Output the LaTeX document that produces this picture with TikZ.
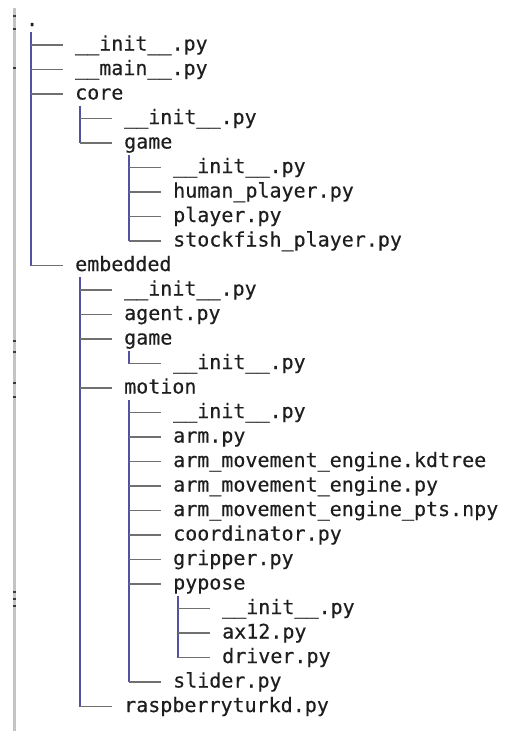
\documentclass[tikz,border=0pt]{standalone}
\usepackage{fontspec}
\newfontfamily\codefont[FakeBold=0.35]{DejaVu Sans Mono}
\usetikzlibrary{calc}
\definecolor{txt}{HTML}{1E1E1E}
\definecolor{vcol}{HTML}{5252A0}
\definecolor{hcol}{HTML}{707070}
\definecolor{barc}{HTML}{C4C4C4}
\definecolor{markc}{HTML}{3A3A3A}
\newcommand\vtree[2]{\draw[vline] ($(#1.west)+(5,11.5)$) -- ($(#1.west |- #2.west)+(5,0)$);}
\newcommand\branch[2]{\draw[hline] ($(#1.west |- #2.west)+(5,0)$) -- ($(#2.west)+(-12,0)$);}
\begin{document}
\begin{tikzpicture}[x=1pt,y=-1pt,
  file/.style={anchor=west,inner sep=0pt,text height=15pt,text depth=4pt,
    font=\codefont\fontsize{20}{20}\selectfont,text=txt},
  vline/.style={draw=vcol,line width=1.3pt},
  hline/.style={draw=hcol,line width=1.8pt},
  barmark/.style={fill=markc}]
\useasboundingbox[fill=white] (0,0) rectangle (504,731);
% left gray bar
\fill[barc] (12.8,8) rectangle (15.6,731);
\foreach \m in {16,29,68,341,352,383,397,592,599,606}
  \fill[barmark] (12.8,\m-1) rectangle (15.6,\m+1);
% files
\node[file] (root) at (26,20.5) {.};
\node[file] (a1) at (75,{20.5+24.5*1}) {\_\_init\_\_.py};
\node[file] (a2) at (75,{20.5+24.5*2}) {\_\_main\_\_.py};
\node[file] (core) at (75,{20.5+24.5*3}) {core};
\node[file] (c1) at (124,{20.5+24.5*4}) {\_\_init\_\_.py};
\node[file] (cgame) at (124,{20.5+24.5*5}) {game};
\node[file] (g1) at (173,{20.5+24.5*6}) {\_\_init\_\_.py};
\node[file] (g2) at (173,{20.5+24.5*7}) {human\_player.py};
\node[file] (g3) at (173,{20.5+24.5*8}) {player.py};
\node[file] (g4) at (173,{20.5+24.5*9}) {stockfish\_player.py};
\node[file] (emb) at (75,{20.5+24.5*10}) {embedded};
\node[file] (e1) at (124,{20.5+24.5*11}) {\_\_init\_\_.py};
\node[file] (e2) at (124,{20.5+24.5*12}) {agent.py};
\node[file] (egame) at (124,{20.5+24.5*13}) {game};
\node[file] (eg1) at (173,{20.5+24.5*14}) {\_\_init\_\_.py};
\node[file] (mot) at (124,{20.5+24.5*15}) {motion};
\node[file] (m1) at (173,{20.5+24.5*16}) {\_\_init\_\_.py};
\node[file] (m2) at (173,{20.5+24.5*17}) {arm.py};
\node[file] (m3) at (173,{20.5+24.5*18}) {arm\_movement\_engine.kdtree};
\node[file] (m4) at (173,{20.5+24.5*19}) {arm\_movement\_engine.py};
\node[file] (m5) at (173,{20.5+24.5*20}) {arm\_movement\_engine\_pts.npy};
\node[file] (m6) at (173,{20.5+24.5*21}) {coordinator.py};
\node[file] (m7) at (173,{20.5+24.5*22}) {gripper.py};
\node[file] (pyp) at (173,{20.5+24.5*23}) {pypose};
\node[file] (p1) at (222,{20.5+24.5*24}) {\_\_init\_\_.py};
\node[file] (p2) at (222,{20.5+24.5*25}) {ax12.py};
\node[file] (p3) at (222,{20.5+24.5*26}) {driver.py};
\node[file] (m8) at (173,{20.5+24.5*27}) {slider.py};
\node[file] (e3) at (124,{20.5+24.5*28}) {raspberryturkd.py};
% verticals
\vtree{root}{emb}
\vtree{core}{cgame}
\vtree{cgame}{g4}
\vtree{emb}{e3}
\vtree{egame}{eg1}
\vtree{mot}{m8}
\vtree{pyp}{p3}
% branches
\foreach \c in {a1,a2,core,emb} {\branch{root}{\c}}
\foreach \c in {c1,cgame} {\branch{core}{\c}}
\foreach \c in {g1,g2,g3,g4} {\branch{cgame}{\c}}
\foreach \c in {e1,e2,egame,mot,e3} {\branch{emb}{\c}}
\branch{egame}{eg1}
\foreach \c in {m1,m2,m3,m4,m5,m6,m7,pyp,m8} {\branch{mot}{\c}}
\foreach \c in {p1,p2,p3} {\branch{pyp}{\c}}
\end{tikzpicture}
\end{document}
